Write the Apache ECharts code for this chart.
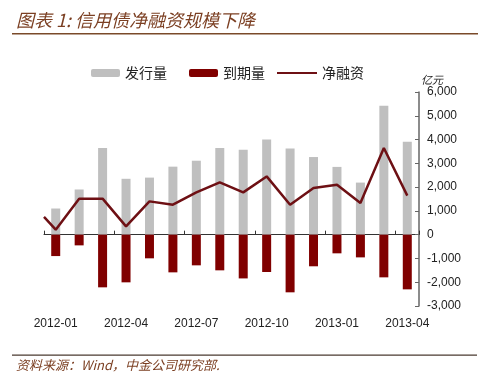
<!DOCTYPE html>
<html><head><meta charset="utf-8">
<script src="https://cdn.jsdelivr.net/npm/echarts@6/dist/echarts.min.js"></script>
<style>html,body{margin:0;padding:0;background:#fff}#c{width:486px;height:380px}</style>
</head><body><div id="c"></div>
<script>
var categories = ['2012-01','2012-02','2012-03','2012-04','2012-05','2012-06','2012-07','2012-08','2012-09','2012-10','2012-11','2012-12','2013-01','2013-02','2013-03','2013-04'];
var issuance = [1100,1900,3650,2350,2400,2860,3110,3650,3575,4000,3620,3265,2850,2190,5425,3910];
var maturity = [-900,-450,-2215,-2005,-995,-1585,-1290,-1500,-1840,-1570,-2425,-1330,-785,-955,-1795,-2300];
// net financing; the first value is read at the left edge of the plot
var netStartValue = 750;
var netFinancing = [210,1514,1514,350,1400,1260,1780,2200,1780,2450,1260,1960,2100,1330,3645,1640];
var yTicks = [-3000,-2000,-1000,0,1000,2000,3000,4000,5000,6000];

var lineData = [[-0.5, netStartValue]].concat(netFinancing.map(function(v,i){return [i,v];}));

var chart = echarts.init(document.getElementById('c'));
var cjk = '"Noto Sans CJK SC", sans-serif';
chart.setOption({
  animation:false,
  backgroundColor:'#fff',
  grid:{left:44,right:67,top:92,bottom:74,containLabel:false},
  legend:[
    {data:['发行量'],left:86,top:61,itemWidth:29,itemHeight:8,itemGap:4,textStyle:{fontFamily:cjk,fontSize:14,color:'#222'},selectedMode:false},
    {data:['到期量'],left:184,top:61,itemWidth:29,itemHeight:8,itemGap:4,textStyle:{fontFamily:cjk,fontSize:14,color:'#222'},selectedMode:false},
    {data:[{name:'净融资',icon:'rect'}],left:272,top:61,itemWidth:40,itemHeight:2,textStyle:{fontFamily:cjk,fontSize:14,color:'#222'},selectedMode:false}
  ],
  xAxis:[
    {type:'category',data:categories,position:'bottom',
     axisLine:{onZero:true,lineStyle:{color:'#333',width:1}},
     axisTick:{show:true,inside:true,interval:2,length:4,lineStyle:{color:'#333'}},
     axisLabel:{show:false}},
    {type:'category',data:categories,position:'bottom',gridIndex:0,
     axisLine:{show:false,onZero:false},axisTick:{show:false},
     axisLabel:{interval:2,margin:12,fontFamily:'"Liberation Sans", Arial, sans-serif',fontSize:12,color:'#222'}},
    {type:'value',min:-0.5,max:15.5,show:false,axisLine:{show:false,onZero:false},splitLine:{show:false}}
  ],
  yAxis:{type:'value',position:'right',min:-3000,max:6000,interval:1000,
    axisLine:{show:true,onZero:false,lineStyle:{color:'#666',width:1.5}},
    axisTick:{show:true,inside:true,length:4,lineStyle:{color:'#666'}},
    splitLine:{show:false},
    axisLabel:{margin:8,fontFamily:'"Liberation Sans", Arial, sans-serif',fontSize:12,color:'#222',
      formatter:function(v){return v.toLocaleString('en-US');}}
  },
  graphic:[
    {type:'text',left:16,top:11,style:{text:'图表 1: 信用债净融资规模下降',font:'italic 18px "Noto Sans CJK SC", sans-serif',fill:'#7b3f22'}},
    {type:'rect',shape:{x:12,y:33,width:466,height:1.5},style:{fill:'#7a4a2a'}},
    {type:'text',left:421,top:74,style:{text:'亿元',font:'italic 11px "Noto Sans CJK SC", sans-serif',fill:'#222'}},
    {type:'rect',shape:{x:12,y:354.5,width:465,height:1.2},style:{fill:'#4a3a30'}},
    {type:'text',left:16,top:359,style:{text:'资料来源：Wind，中金公司研究部.',font:'italic 13px "Noto Sans CJK SC", sans-serif',fill:'#7b3f22'}}
  ],
  series:[
    {name:'发行量',type:'bar',data:issuance,barWidth:9,barGap:'-100%',itemStyle:{color:'#bfbfbf'}},
    {name:'到期量',type:'bar',data:maturity,barWidth:9,barGap:'-100%',itemStyle:{color:'#800000'}},
    {name:'净融资',type:'line',xAxisIndex:2,data:lineData,symbol:'none',clip:true,
     lineStyle:{color:'#6e1014',width:2.5},itemStyle:{color:'#6e1014'},z:5}
  ]
});
</script></body></html>
